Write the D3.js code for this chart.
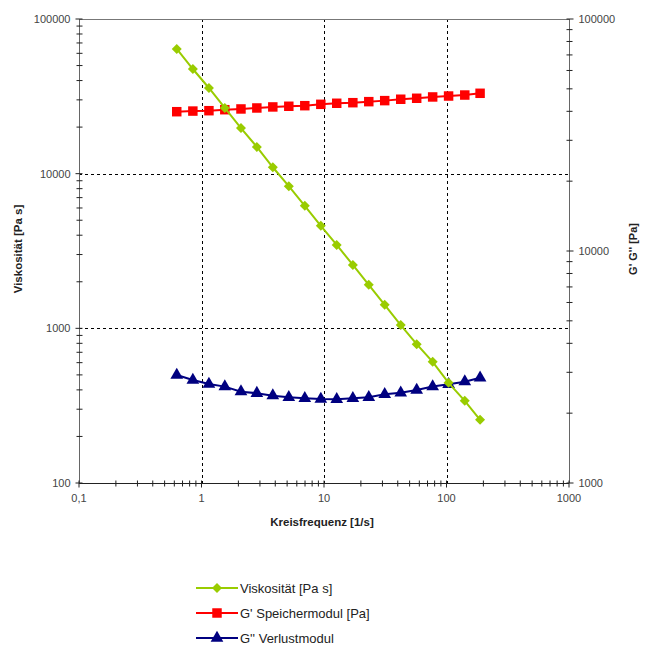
<!DOCTYPE html>
<html><head><meta charset="utf-8">
<script src="https://cdn.jsdelivr.net/npm/d3@7"></script>
<style>body{margin:0;background:#fff}svg{display:block;font-family:"Liberation Sans",Arial,sans-serif}</style>
</head><body><svg id="c" width="646" height="650"></svg>
<script>
const freq = [0.628, 0.85, 1.15, 1.55, 2.1, 2.83, 3.82, 5.16, 6.97, 9.42, 12.7, 17.2, 23.2, 31.3, 42.3, 57.1, 77.1, 104, 141, 188];
const viskositaet = [64000, 47500, 35800, 26600, 19700, 14900, 11000, 8300, 6200, 4600, 3460, 2570, 1910, 1420, 1050, 790, 607, 444, 340, 256];
const speichermodul = [39850, 40100, 40250, 40650, 40950, 41350, 41780, 42060, 42300, 42880, 43330, 43580, 44030, 44480, 45100, 45530, 46130, 46560, 47020, 47840];
const verlustmodul = [2921, 2780, 2672, 2603, 2476, 2438, 2379, 2341, 2318, 2301, 2295, 2318, 2341, 2412, 2449, 2517, 2603, 2663, 2733, 2843];
const xTicks = [0.1, 1, 10, 100, 1000];
const xTickLabels = ["0,1", "1", "10", "100", "1000"];
const yLeftTicks = [100, 1000, 10000, 100000];
const yRightTicks = [1000, 10000, 100000];
const legendLabels = ["Viskosität [Pa s]", "G' Speichermodul [Pa]", "G'' Verlustmodul"];

const svg = d3.select("#c");
const L = 79, R = 569, T = 19, B = 483;
const x = d3.scaleLog().domain([0.1, 1000]).range([L, R]);
const yL = d3.scaleLog().domain([100, 100000]).range([B, T]);
const yR = d3.scaleLog().domain([1000, 100000]).range([B, T]);

function minors(dmin, dmax) {
  const out = [];
  for (let d = dmin; d < dmax; d *= 10) for (let k = 2; k <= 9; k++) out.push(d * k);
  return out;
}

// grid
const grid = svg.append("g").attr("stroke", "#000").attr("stroke-width", 1).attr("stroke-dasharray", "3,3");
[1, 10, 100].forEach(v => grid.append("line").attr("x1", Math.round(x(v)) + 0.5).attr("x2", Math.round(x(v)) + 0.5).attr("y1", T).attr("y2", B));
[1000, 10000].forEach(v => grid.append("line").attr("y1", Math.round(yL(v)) + 0.5).attr("y2", Math.round(yL(v)) + 0.5).attr("x1", L).attr("x2", R));

// frame
svg.append("line").attr("x1", L).attr("x2", R).attr("y1", T + 0.5).attr("y2", T + 0.5).attr("stroke", "#777");

// left axis
const gl = svg.append("g").attr("transform", `translate(${L + 0.5},0)`);
gl.append("line").attr("y1", T).attr("y2", B).attr("stroke", "#666");
minors(100, 100000).forEach(v => gl.append("line").attr("x1", -3).attr("x2", 3).attr("y1", yL(v)).attr("y2", yL(v)).attr("stroke", "#222"));
yLeftTicks.forEach(v => {
  gl.append("line").attr("x1", -4).attr("x2", 3).attr("y1", yL(v)).attr("y2", yL(v)).attr("stroke", "#222");
  gl.append("text").attr("x", -9).attr("y", yL(v)).attr("dy", "0.35em").attr("text-anchor", "end").attr("font-size", 11).attr("fill", "#444").text(v);
});

// right axis
const gr = svg.append("g").attr("transform", `translate(${R + 0.5},0)`);
gr.append("line").attr("y1", T).attr("y2", B).attr("stroke", "#666");
minors(1000, 100000).forEach(v => gr.append("line").attr("x1", -3).attr("x2", 3).attr("y1", yR(v)).attr("y2", yR(v)).attr("stroke", "#222"));
yRightTicks.forEach(v => {
  gr.append("line").attr("x1", -3).attr("x2", 4).attr("y1", yR(v)).attr("y2", yR(v)).attr("stroke", "#222");
  gr.append("text").attr("x", 9).attr("y", yR(v)).attr("dy", "0.35em").attr("text-anchor", "start").attr("font-size", 11).attr("fill", "#444").text(v);
});

// bottom axis
const gb = svg.append("g").attr("transform", `translate(0,${B + 0.5})`);
gb.append("line").attr("x1", L).attr("x2", R).attr("stroke", "#222");
minors(0.1, 1000).forEach(v => gb.append("line").attr("x1", x(v)).attr("x2", x(v)).attr("y1", -3).attr("y2", 3).attr("stroke", "#222"));
xTicks.forEach((v, i) => {
  gb.append("line").attr("x1", x(v)).attr("x2", x(v)).attr("y1", -3).attr("y2", 4).attr("stroke", "#222");
  gb.append("text").attr("x", x(v)).attr("y", 18).attr("text-anchor", "middle").attr("font-size", 11).attr("fill", "#444").text(xTickLabels[i]);
});

// axis titles
svg.append("text").attr("x", 322).attr("y", 526).attr("text-anchor", "middle").attr("font-size", 11.5).attr("font-weight", "bold").attr("fill", "#222").text("Kreisfrequenz [1/s]");
svg.append("text").attr("transform", "translate(22,249) rotate(-90)").attr("text-anchor", "middle").attr("font-size", 11.5).attr("font-weight", "bold").attr("fill", "#222").text("Viskosität [Pa s]");
svg.append("text").attr("transform", "translate(637,249) rotate(-90)").attr("text-anchor", "middle").attr("font-size", 11).attr("font-weight", "bold").attr("fill", "#222").text("G' G'' [Pa]");

const green = "#99cc00", red = "#ff0000", navy = "#000080";
const series = [
  {vals: viskositaet, y: yL, color: green, sym: d3.symbolSquare, size: 50, rot: 45},
  {vals: speichermodul, y: yR, color: red, sym: d3.symbolSquare, size: 90, rot: 0},
  {vals: verlustmodul, y: yR, color: navy, sym: d3.symbolTriangle, size: 70, rot: 0}
];
const draw = [series[2], series[1], series[0]];
draw.forEach(s => {
  const line = d3.line().x((d, i) => x(freq[i])).y(d => s.y(d));
  svg.append("path").attr("d", line(s.vals)).attr("fill", "none").attr("stroke", s.color).attr("stroke-width", 2);
  svg.append("g").selectAll("path").data(s.vals).join("path")
    .attr("transform", (d, i) => `translate(${x(freq[i])},${s.y(d)}) rotate(${s.rot})`)
    .attr("d", d3.symbol().type(s.sym).size(s.size)).attr("fill", s.color);
});

// legend
series.forEach((s, i) => {
  const ly = 588 + i * 25;
  svg.append("line").attr("x1", 196).attr("x2", 238).attr("y1", ly).attr("y2", ly).attr("stroke", s.color).attr("stroke-width", 2);
  svg.append("path").attr("transform", `translate(217,${ly}) rotate(${s.rot})`).attr("d", d3.symbol().type(s.sym).size(s.size)).attr("fill", s.color);
  svg.append("text").attr("x", 240).attr("y", ly).attr("dy", "0.35em").attr("font-size", 13).attr("fill", "#222").text(legendLabels[i]);
});
</script></body></html>
